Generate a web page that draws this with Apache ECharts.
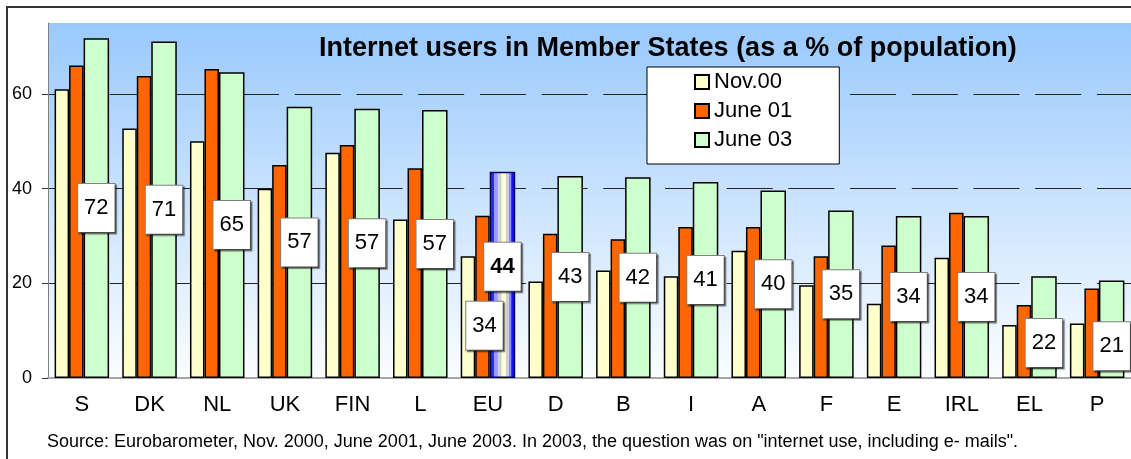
<!DOCTYPE html>
<html>
<head>
<meta charset="utf-8">
<title>Internet users in Member States</title>
<script src="https://cdn.jsdelivr.net/npm/echarts@6/dist/echarts.min.js"></script>
<style>
  html, body { margin: 0; padding: 0; background: #fff; }
  #chart { width: 1131px; height: 459px; }
</style>
</head>
<body>
<div id="chart"></div>
<script>
// values (% of population)
const categories = ['S', 'DK', 'NL', 'UK', 'FIN', 'L', 'EU', 'D', 'B', 'I', 'A', 'F', 'E', 'IRL', 'EL', 'P'];
const nov00 = [61, 52.7, 50, 40, 47.6, 33.5, 25.7, 20.4, 22.7, 21.5, 26.9, 19.6, 15.7, 25.4, 11.2, 11.5];
const june01 = [66, 63.8, 65.3, 45, 49.2, 44.3, 34.3, 30.5, 29.3, 31.9, 31.9, 25.7, 28, 34.9, 15.4, 18.9];
const june03 = [71.8, 71.1, 64.6, 57.3, 56.9, 56.6, 43.6, 42.7, 42.4, 41.4, 39.6, 35.4, 34.2, 34.2, 21.5, 20.6];
const yTicks = [0, 20, 40, 60];
const seriesNames = ['Nov.00', 'June 01', 'June 03'];
const sourceNote = 'Source: Eurobarometer, Nov. 2000, June 2001, June 2003. In 2003, the question was on "internet use, including e- mails".';

const FONT = '"Liberation Sans", Arial, sans-serif';

// label box look, like the excel data labels
const boxLabel = {
  show: true,
  position: 'inside',
  color: '#000',
  fontFamily: FONT,
  fontSize: 22,
  lineHeight: 24,
  backgroundColor: '#fff',
  borderColor: '#808080',
  borderWidth: 1,
  padding: [12, 6],
  shadowColor: 'rgba(0,0,0,0.45)',
  shadowOffsetX: 1.5,
  shadowOffsetY: 1.5,
  shadowBlur: 1,
  formatter: p => Math.round(p.value)
};

// a few labels were pushed down in the original
const labelShift = { EU: -8, EL: 16, P: 17 };

const euBarColor = new echarts.graphic.LinearGradient(0, 0, 1, 0, [
  { offset: 0, color: '#2b2bff' },
  { offset: 0.15, color: '#2b2bff' },
  { offset: 0.17, color: '#9a9aff' },
  { offset: 0.3, color: '#9a9aff' },
  { offset: 0.32, color: '#cfcfd6' },
  { offset: 0.45, color: '#cfcfd6' },
  { offset: 0.47, color: '#ffffcc' },
  { offset: 0.62, color: '#ffffcc' },
  { offset: 0.64, color: '#cfcfd6' },
  { offset: 0.74, color: '#cfcfd6' },
  { offset: 0.76, color: '#8c8cff' },
  { offset: 0.84, color: '#8c8cff' },
  { offset: 0.86, color: '#1414ff' },
  { offset: 1, color: '#1414ff' }
]);

const chart = echarts.init(document.getElementById('chart'));

const barBase = {
  type: 'bar',
  barGap: '0%',
  itemStyle: { borderColor: '#000', borderWidth: 1.5 }
};

const option = {
  backgroundColor: '#fff',
  animation: false,
  textStyle: { fontFamily: FONT },
  title: [
    {
      text: 'Internet users in Member States (as a % of population)',
      left: 319,
      top: 35,
      padding: 0,
      textStyle: { fontFamily: FONT, fontSize: 27, fontWeight: 'bold', color: '#000' }
    },
    {
      text: sourceNote,
      left: 47,
      top: 433,
      padding: 0,
      textStyle: { fontFamily: FONT, fontSize: 18, fontWeight: 'normal', color: '#000' }
    }
  ],
  legend: {
    data: seriesNames,
    orient: 'vertical',
    left: 647,
    top: 67,
    padding: [4, 47, 13, 47],
    itemWidth: 14,
    itemHeight: 14,
    itemGap: 7,
    icon: 'rect',
    backgroundColor: '#fff',
    borderColor: '#000',
    borderWidth: 1,
    textStyle: { fontFamily: FONT, fontSize: 22, lineHeight: 22, color: '#000' }
  },
  graphic: [
    {
      type: 'rect',
      z: 100,
      silent: true,
      shape: { x: 7, y: 7, width: 1300, height: 600 },
      style: { fill: null, stroke: '#333', lineWidth: 2 }
    }
  ],
  grid: {
    left: 48,
    top: 23,
    width: 1088,
    height: 355,
    show: true,
    borderWidth: 0,
    backgroundColor: new echarts.graphic.LinearGradient(0, 0, 0, 1, [
      { offset: 0, color: '#99c9fc' },
      { offset: 1, color: '#fbfdff' }
    ])
  },
  xAxis: {
    type: 'category',
    data: categories,
    axisLine: { lineStyle: { color: '#a6a6a6', width: 2 } },
    axisTick: { show: false },
    axisLabel: { color: '#000', fontFamily: FONT, fontSize: 22, margin: 16 }
  },
  yAxis: {
    type: 'value',
    min: 0,
    max: 75,
    axisLine: { show: true, lineStyle: { color: '#808080', width: 1 } },
    axisTick: { show: true, length: 6, customValues: yTicks, lineStyle: { color: '#333' } },
    axisLabel: { color: '#000', fontFamily: FONT, fontSize: 18, margin: 16, customValues: yTicks },
    splitLine: {
      show: true,
      lineStyle: { color: '#222', width: 1, type: [46, 15.7] }
    }
  },
  series: [
    Object.assign({}, barBase, {
      name: seriesNames[0],
      barWidth: 14.5,
      color: '#ffffcc',
      itemStyle: { color: '#ffffcc', borderColor: '#000', borderWidth: 1.5 },
      data: nov00
    }),
    Object.assign({}, barBase, {
      name: seriesNames[1],
      barWidth: 14.5,
      color: '#ff6600',
      itemStyle: { color: '#ff6600', borderColor: '#000', borderWidth: 1.5 },
      data: june01.map((v, i) => categories[i] === 'EU'
        ? { value: v, label: Object.assign({}, boxLabel, { offset: [2, 29] }) }
        : v)
    }),
    Object.assign({}, barBase, {
      name: seriesNames[2],
      barWidth: 25.5,
      color: '#ccffcc',
      itemStyle: { color: '#ccffcc', borderColor: '#000', borderWidth: 1.5 },
      label: boxLabel,
      data: june03.map((v, i) => {
        const cat = categories[i];
        const item = { value: v };
        if (labelShift[cat]) item.label = { offset: [0, labelShift[cat]] };
        if (cat === 'EU') {
          item.itemStyle = { color: euBarColor, borderColor: '#000060' };
          item.label = { offset: [0, labelShift[cat]], fontWeight: 'bold' };
        }
        return item;
      })
    })
  ]
};

chart.setOption(option);
window.addEventListener('resize', () => chart.resize());
</script>
</body>
</html>
